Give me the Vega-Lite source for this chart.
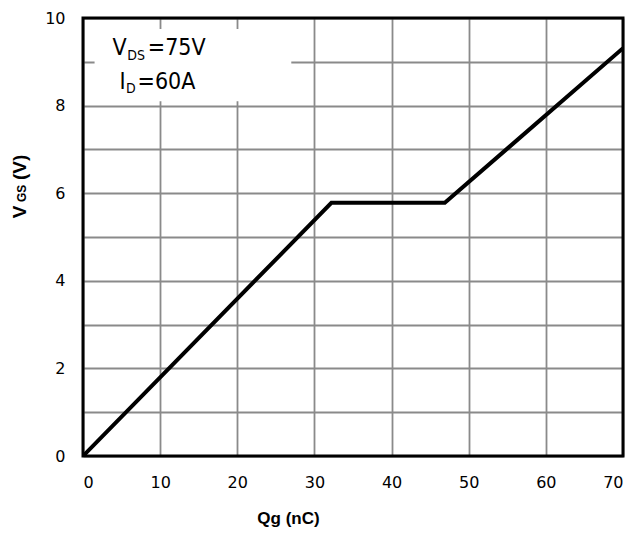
{
  "$schema": "https://vega.github.io/schema/vega-lite/v6.json",
  "width": 540,
  "height": 438,
  "autosize": {"type": "none"},
  "padding": {"left": 83, "top": 18, "right": 12, "bottom": 77},
  "background": "white",
  "config": {
    "view": {"stroke": null},
    "axis": {
      "grid": true,
      "gridColor": "#8a8a8a",
      "gridWidth": 1.8,
      "ticks": false,
      "tickSize": 0,
      "domain": false,
      "labelFont": "DejaVu Sans",
      "labelFontSize": 16,
      "labelColor": "black"
    }
  },
  "layer": [
    {
      "data": {"values": [{"qg": 0, "vgs": 0}, {"qg": 32.2, "vgs": 5.78}, {"qg": 46.9, "vgs": 5.78}, {"qg": 70, "vgs": 9.31}]},
      "mark": {"type": "line", "color": "black", "strokeWidth": 4, "clip": true},
      "encoding": {
        "x": {"field": "qg", "type": "quantitative",
          "scale": {"domain": [0, 70], "nice": false},
          "axis": {"values": [0, 10, 20, 30, 40, 50, 60, 70], "labelPadding": 18,
            "title": "Qg (nC)", "titleFont": "Liberation Sans", "titleFontWeight": "bold", "titleFontSize": 17,
            "titleX": 205, "titleY": 67, "titleBaseline": "alphabetic", "titleAlign": "center"}},
        "y": {"field": "vgs", "type": "quantitative",
          "scale": {"domain": [0, 10], "nice": false},
          "axis": {"values": [0, 1, 2, 3, 4, 5, 6, 7, 8, 9, 10], "labelExpr": "datum.value % 2 == 0 ? datum.label : ''",
            "labelPadding": 18, "title": null}}
      }
    },
    {
      "data": {"values": [{}]},
      "mark": {"type": "rect", "fill": "white"},
      "encoding": {"x": {"datum": 1.5}, "x2": {"datum": 27}, "y": {"datum": 9.75}, "y2": {"datum": 8.1}}
    },
    {
      "data": {"values": [{}]},
      "mark": {"type": "rect", "fill": null, "fillOpacity": 0, "stroke": "black", "strokeWidth": 3},
      "encoding": {"x": {"datum": 0}, "x2": {"datum": 70}, "y": {"datum": 0}, "y2": {"datum": 10}}
    },
    {
      "data": {"values": [{}]},
      "mark": {"type": "text", "text": "V", "font": "DejaVu Sans Condensed", "fontSize": 23, "align": "left", "baseline": "alphabetic", "color": "black"},
      "encoding": {"x": {"datum": 3.82}, "y": {"datum": 9.155}}
    },
    {
      "data": {"values": [{}]},
      "mark": {"type": "text", "text": "DS", "font": "DejaVu Sans Condensed", "fontSize": 14, "align": "left", "baseline": "alphabetic", "color": "black"},
      "encoding": {"x": {"datum": 5.75}, "y": {"datum": 9.04}}
    },
    {
      "data": {"values": [{}]},
      "mark": {"type": "text", "text": "=75V", "font": "DejaVu Sans Condensed", "fontSize": 23, "align": "left", "baseline": "alphabetic", "color": "black"},
      "encoding": {"x": {"datum": 8.4}, "y": {"datum": 9.155}}
    },
    {
      "data": {"values": [{}]},
      "mark": {"type": "text", "text": "I", "font": "DejaVu Sans Condensed", "fontSize": 23, "align": "left", "baseline": "alphabetic", "color": "black"},
      "encoding": {"x": {"datum": 4.73}, "y": {"datum": 8.38}}
    },
    {
      "data": {"values": [{}]},
      "mark": {"type": "text", "text": "D", "font": "DejaVu Sans Condensed", "fontSize": 14, "align": "left", "baseline": "alphabetic", "color": "black"},
      "encoding": {"x": {"datum": 5.57}, "y": {"datum": 8.29}}
    },
    {
      "data": {"values": [{}]},
      "mark": {"type": "text", "text": "=60A", "font": "DejaVu Sans Condensed", "fontSize": 23, "align": "left", "baseline": "alphabetic", "color": "black"},
      "encoding": {"x": {"datum": 7.07}, "y": {"datum": 8.38}}
    },
    {
      "data": {"values": [{}]},
      "mark": {"type": "text", "text": "V", "font": "Liberation Sans", "fontWeight": "bold", "fontSize": 19, "angle": 270, "align": "left", "baseline": "alphabetic", "color": "black", "clip": false},
      "encoding": {"x": {"datum": -7.33}, "y": {"datum": 5.43}}
    },
    {
      "data": {"values": [{}]},
      "mark": {"type": "text", "text": "GS", "font": "Liberation Sans", "fontWeight": "bold", "fontSize": 12, "angle": 270, "align": "left", "baseline": "alphabetic", "color": "black", "clip": false},
      "encoding": {"x": {"datum": -7.33}, "y": {"datum": 5.8}}
    },
    {
      "data": {"values": [{}]},
      "mark": {"type": "text", "text": "(V)", "font": "Liberation Sans", "fontWeight": "bold", "fontSize": 19, "angle": 270, "align": "left", "baseline": "alphabetic", "color": "black", "clip": false},
      "encoding": {"x": {"datum": -7.33}, "y": {"datum": 6.3}}
    }
  ]
}
